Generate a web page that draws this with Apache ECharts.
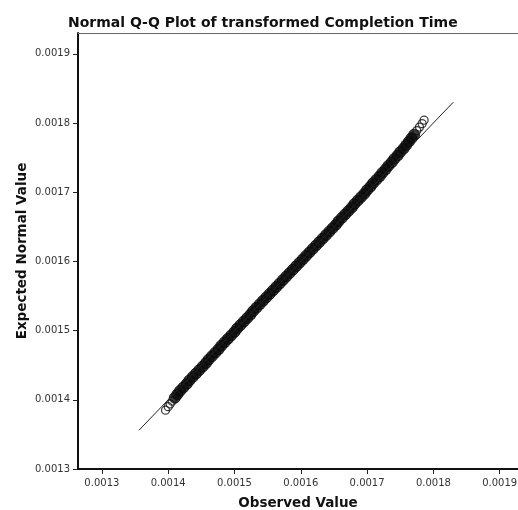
<!DOCTYPE html>
<html>
<head>
<meta charset="utf-8">
<script src="https://cdn.jsdelivr.net/npm/echarts@6/dist/echarts.min.js"></script>
<style>
  html, body { margin: 0; padding: 0; background: #fff; }
  #chart { width: 518px; height: 510px; }
</style>
</head>
<body>
<div id="chart"></div>
<script>
// ── Datos ─────────────────────────────────────────────────────────────────
const TICKS = [0.0013, 0.0014, 0.0015, 0.0016, 0.0017, 0.0018, 0.0019];

// valores esperados (eje Y)
const expectedVals = [
  0.001385, 0.001390, 0.001394, 0.001398,
  0.001403, 0.001408, 0.001413, 0.001418, 0.001423, 0.001428, 0.001433, 0.001438,
  0.001443, 0.001448, 0.001453, 0.001458, 0.001463, 0.001468, 0.001473, 0.001478,
  0.001483, 0.001488, 0.001493, 0.001498, 0.001503, 0.001508, 0.001513, 0.001518,
  0.001523, 0.001528, 0.001533, 0.001538, 0.001543, 0.001548, 0.001553, 0.001558,
  0.001563, 0.001568, 0.001573, 0.001578, 0.001583, 0.001588, 0.001593, 0.001598,
  0.001603, 0.001608, 0.001613, 0.001618, 0.001623, 0.001628, 0.001633, 0.001638,
  0.001643, 0.001648, 0.001653, 0.001658, 0.001663, 0.001668, 0.001673, 0.001678,
  0.001683, 0.001688, 0.001693, 0.001698, 0.001703, 0.001708, 0.001713, 0.001718,
  0.001723, 0.001728, 0.001733, 0.001738, 0.001743, 0.001748, 0.001753, 0.001758,
  0.001763, 0.001768, 0.001773, 0.001778, 0.001783,
  0.001789, 0.001794, 0.001799, 0.001804
];

// valores observados (eje X)
const observedVals = [
  0.001396, 0.001400, 0.001403, 0.001406,
  0.001410, 0.001414, 0.001418, 0.001423, 0.001428, 0.001432, 0.001437, 0.001442,
  0.001447, 0.001452, 0.001457, 0.001461, 0.001466, 0.001471, 0.001476, 0.001480,
  0.001485, 0.001490, 0.001495, 0.001500, 0.001504, 0.001509, 0.001514, 0.001519,
  0.001524, 0.001528, 0.001533, 0.001538, 0.001543, 0.001548, 0.001553, 0.001558,
  0.001563, 0.001568, 0.001573, 0.001578, 0.001583, 0.001588, 0.001593, 0.001598,
  0.001603, 0.001608, 0.001613, 0.001618, 0.001623, 0.001628, 0.001633, 0.001638,
  0.001643, 0.001648, 0.001653, 0.001657, 0.001662, 0.001667, 0.001672, 0.001677,
  0.001681, 0.001686, 0.001691, 0.001696, 0.001700, 0.001705, 0.001709, 0.001714,
  0.001719, 0.001723, 0.001728, 0.001732, 0.001737, 0.001741, 0.001746, 0.001750,
  0.001755, 0.001759, 0.001763, 0.001767, 0.001771,
  0.001775, 0.001779, 0.001783, 0.001786
];

// recta de referencia y = x
const refLine = [0.001356, 0.00183];

// ── Gráfico ───────────────────────────────────────────────────────────────
const chart = echarts.init(document.getElementById('chart'), null, { renderer: 'canvas' });

const N = observedVals.length;
const points = observedVals.map((x, i) => {
  const tail = i < 4 || i >= N - 4;   // colas: círculos huecos
  return {
    value: [x, expectedVals[i]],
    symbolSize: tail ? 8 : 11,
    itemStyle: tail
      ? { color: 'rgba(255,255,255,0)', borderColor: '#111', borderWidth: 1.3 }
      : { color: '#0a0a0a', borderColor: '#0a0a0a', borderWidth: 1 },
  };
});

const fmt = v => v.toFixed(4);
const FONT = 'DejaVu Sans, Arial, sans-serif';
const X_MIN = 0.001264, X_MAX = 0.0019276;

chart.setOption({
  animation: false,
  textStyle: { fontFamily: FONT },
  title: {
    text: 'Normal Q-Q Plot of transformed Completion Time',
    left: 63, top: 11,
    textStyle: { fontSize: 14, fontWeight: 'bold', color: '#111', fontFamily: FONT },
  },
  grid: { left: 78, right: 0, top: 33, bottom: 41, outerBoundsMode: 'none', containLabel: false },
  xAxis: [
    {
      type: 'value',
      min: X_MIN, max: X_MAX,
      name: 'Observed Value', nameLocation: 'middle', nameGap: 27, nameMoveOverlap: false,
      nameTextStyle: { fontSize: 13.5, fontWeight: 'bold', color: '#111' },
      axisLine: { show: true, lineStyle: { color: '#111', width: 2 } },
      axisTick: { show: true, length: 5, customValues: TICKS, lineStyle: { color: '#222' } },
      axisLabel: { customValues: TICKS, formatter: fmt, fontSize: 10, color: '#333', margin: 9 },
      splitLine: { show: false },
    },
    {
      // borde superior del marco
      type: 'value', position: 'top',
      min: X_MIN, max: X_MAX,
      axisLine: { show: true, lineStyle: { color: '#666', width: 1 } },
      axisTick: { show: false }, axisLabel: { show: false }, splitLine: { show: false },
    },
  ],
  yAxis: {
    type: 'value',
    min: 0.0013, max: 0.00193,
    name: 'Expected Normal Value', nameLocation: 'middle', nameGap: 49, nameMoveOverlap: false,
    nameTextStyle: { fontSize: 13.5, fontWeight: 'bold', color: '#111' },
    axisLine: { show: true, lineStyle: { color: '#111', width: 2 } },
    axisTick: { show: true, length: 5, customValues: TICKS, lineStyle: { color: '#222' } },
    axisLabel: { customValues: TICKS, formatter: fmt, fontSize: 10, color: '#333', margin: 8 },
    splitLine: { show: false },
  },
  series: [
    {
      type: 'line',
      data: refLine.map(v => [v, v]),
      symbol: 'none',
      lineStyle: { color: '#222', width: 1 },
      z: 3,
    },
    {
      type: 'scatter',
      data: points,
      symbol: 'circle',
      z: 2,
    },
  ],
});
</script>
</body>
</html>
